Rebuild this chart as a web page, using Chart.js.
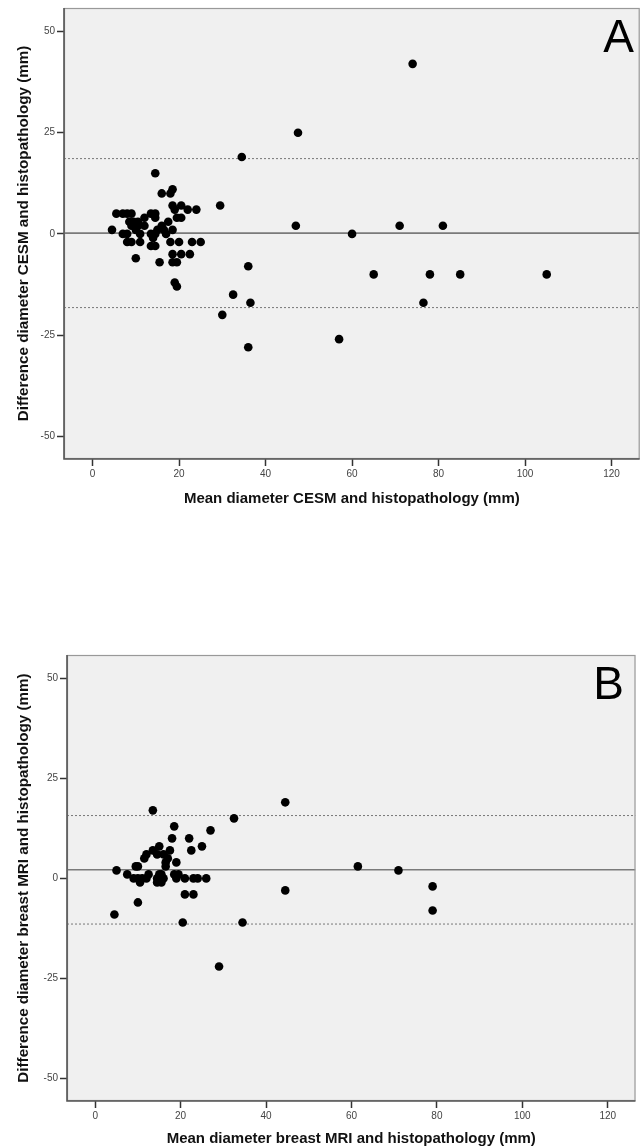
<!DOCTYPE html>
<html>
<head>
<meta charset="utf-8">
<script src="https://cdn.jsdelivr.net/npm/chart.js@4.4.0/dist/chart.umd.min.js"></script>
<style>
body { margin: 0; background: #fff; width: 640px; height: 1148px; position: relative; overflow: hidden; }
canvas { position: absolute; left: 0; }
#chartA { top: 0; }
#chartB { top: 640px; }
</style>
</head>
<body>
<canvas id="chartA" width="644" height="520"></canvas>
<canvas id="chartB" width="640" height="508"></canvas>
<script>
// tick labels shared by both panels
const xTicks = [0, 20, 40, 60, 80, 100, 120];
const yTicks = [50, 25, 0, -25, -50];

// panel A: CESM vs histopathology
const cesmMean = [4.5, 5.5, 7, 8, 9, 7, 8, 8, 9, 8.5, 9, 9.5, 10, 10.5, 10, 10.5, 11, 11, 12, 12,
    13.5, 14.5, 14.5, 13.5, 14, 14.5, 13.5, 14.5, 14.5, 15, 15.5, 16, 16, 16.5, 17, 17.5, 18, 18.5,
    18.5, 18.5, 18, 18.5, 18.5, 19, 19.5, 19.5, 19, 19.5, 20.5, 20.5, 20, 20.5, 22, 22.5, 23, 24, 25,
    29.5, 34.5, 47.5, 47, 74, 60, 71, 81, 36, 32.5, 36.5, 30, 36, 57, 65, 78, 85, 105, 76.5];
const cesmDiff = [1, 5, 5, 5, 5, 0, 0, -2, -2, 3, 2, 3, 1, 2, -6, 3, 0, -2, 4, 2,
    5, 5, 4, 0, -1, 0, -3, -3, 15, 1, -7, 2, 10, 1, 0, 3, 10, 11,
    7, 1, -2, -5, -7, 6, 4, -7, -12, -13, 4, 7, -2, -5, 6, -5, -2, 6, -2,
    7, 19, 25, 2, 42, 0, 2, 2, -8, -15, -17, -20, -28, -26, -10, -10, -10, -10, -17];
const cesmBias = 0.2;
const cesmUpper = 18.6;
const cesmLower = -18.2;

// panel B: breast MRI vs histopathology
const mriMean = [4.5, 5, 7.5, 9, 9.5, 10, 10, 10, 10.5, 11, 11.5, 12, 12, 12.5, 13.5, 13.5, 14.5,
    14.5, 14.5, 15, 15, 15.5, 15.5, 16, 16, 16.5, 16.5, 17, 17.5, 18, 18.5, 18.5, 19, 19, 19.5,
    20.5, 21, 21, 22, 22.5, 23, 23, 24, 25, 26, 27, 29, 32.5, 34.5, 44.5, 44.5, 61.5, 71, 79, 79];
const mriDiff = [-9, 2, 1, 0, 3, 3, 0, -6, -1, 0, 5, 6, 0, 1, 7, 17, 6,
    0, -1, 8, 1, 1, -1, 0, 6, 4, 3, 5, 7, 10, 13, 1, 4, 0, 1,
    -11, 0, -4, 10, 7, 0, -4, 0, 8, 0, 12, -22, 15, -11, 19, -3, 3, 2, -2, -8];
const mriBias = 2.15;
const mriUpper = 15.7;
const mriLower = -11.4;

const X_MIN = -6.6, X_MAX = 126.5;
const Y_MIN = -55.6, Y_MAX = 55.8;
const FONT = "'Liberation Sans', Arial, sans-serif";

const panelPlugin = {
    id: 'panel',
    beforeDatasetsDraw(chart) {
        const a = chart.chartArea, ctx = chart.ctx;
        ctx.save();
        ctx.fillStyle = '#f0f0f0';
        ctx.fillRect(a.left, a.top, a.right - a.left, a.bottom - a.top);
        ctx.restore();
    },
    afterDraw(chart, args, opts) {
        const a = chart.chartArea, ctx = chart.ctx;
        ctx.save();
        ctx.strokeStyle = '#999';
        ctx.lineWidth = 1.2;
        ctx.strokeRect(a.left + 0.5, a.top + 0.5, a.right - a.left - 1, a.bottom - a.top - 1);
        ctx.strokeStyle = '#555';
        ctx.lineWidth = 1.6;
        ctx.beginPath();
        ctx.moveTo(a.left, a.top);
        ctx.lineTo(a.left, a.bottom);
        ctx.lineTo(a.right, a.bottom);
        ctx.stroke();
        // panel letter
        ctx.fillStyle = '#000';
        ctx.font = '46px ' + FONT;
        ctx.textAlign = 'right';
        ctx.textBaseline = 'alphabetic';
        ctx.fillText(opts.letter, a.right - opts.dx, a.top + opts.base);
        ctx.restore();
    }
};

function makeChart(id, means, diffs, bias, upper, lower, xTitle, yTitle, letter, geo) {
    const points = means.map((m, i) => ({ x: m, y: diffs[i] }));
    const hline = (v) => [{ x: X_MIN, y: v }, { x: X_MAX, y: v }];
    return new Chart(document.getElementById(id), {
        type: 'scatter',
        data: {
            datasets: [
                { data: points, backgroundColor: '#000', borderColor: '#000', pointRadius: 4.3, pointBorderWidth: 0, order: 1 },
                { type: 'line', data: hline(bias), borderColor: '#7a7a7a', borderWidth: 1.6, pointRadius: 0, order: 2 },
                { type: 'line', data: hline(upper), borderColor: '#777', borderWidth: 1, borderDash: [2, 2], pointRadius: 0, order: 2 },
                { type: 'line', data: hline(lower), borderColor: '#777', borderWidth: 1, borderDash: [2, 2], pointRadius: 0, order: 2 }
            ]
        },
        options: {
            responsive: false,
            animation: false,
            devicePixelRatio: 1,
            layout: { padding: { top: geo.top, right: geo.right, left: 0, bottom: 0 } },
            plugins: {
                legend: { display: false },
                tooltip: { enabled: false },
                panel: { letter: letter, dx: geo.letterDx, base: geo.letterBase }
            },
            scales: {
                x: {
                    type: 'linear', min: X_MIN, max: X_MAX,
                    afterBuildTicks: (s) => { s.ticks = xTicks.map(v => ({ value: v })); },
                    afterFit: (s) => { s.height = geo.xHeight; },
                    grid: { drawOnChartArea: false, drawTicks: true, tickLength: 7, tickColor: '#333', tickWidth: 1.5 },
                    border: { display: false },
                    ticks: { padding: 2, color: '#444', font: { family: FONT, size: 10 }, maxRotation: 0 },
                    title: { display: true, text: xTitle, color: '#111', font: { family: FONT, size: 15, weight: 'bold' }, padding: { top: 0, bottom: geo.xTitlePad } }
                },
                y: {
                    type: 'linear', min: Y_MIN, max: Y_MAX,
                    afterBuildTicks: (s) => { s.ticks = yTicks.map(v => ({ value: v })); },
                    afterFit: (s) => { s.width = geo.yWidth; },
                    grid: { drawOnChartArea: false, drawTicks: true, tickLength: 7, tickColor: '#333', tickWidth: 1.5 },
                    border: { display: false },
                    ticks: { padding: 2, color: '#444', font: { family: FONT, size: 10 } },
                    title: { display: true, text: yTitle, color: '#111', font: { family: FONT, size: 15.2, weight: 'bold' }, padding: { top: 15, bottom: 0 } }
                }
            }
        },
        plugins: [panelPlugin]
    });
}

makeChart('chartA', cesmMean, cesmDiff, cesmBias, cesmUpper, cesmLower,
    'Mean diameter CESM and histopathology (mm)',
    'Difference diameter CESM and histopathology (mm)', 'A',
    { top: 7, right: 1, yWidth: 64, xHeight: 61, xTitlePad: 12, letterDx: 5.7, letterBase: 44 });

makeChart('chartB', mriMean, mriDiff, mriBias, mriUpper, mriLower,
    'Mean diameter breast MRI and histopathology (mm)',
    'Difference diameter breast MRI and histopathology (mm)', 'B',
    { top: 15, right: 4.5, yWidth: 67, xHeight: 47, xTitlePad: 0, letterDx: 11.5, letterBase: 43.6 });
</script>
</body>
</html>
